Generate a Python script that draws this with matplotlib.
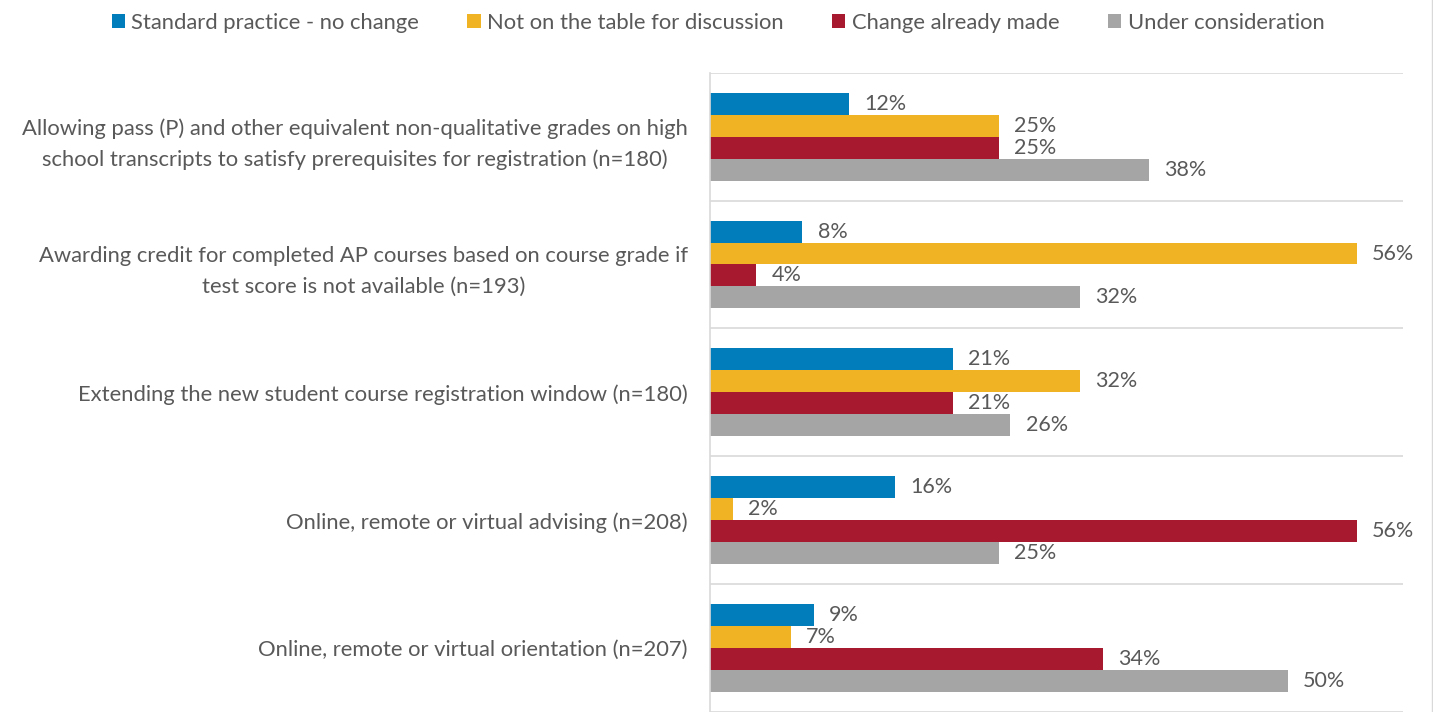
import matplotlib
matplotlib.use('Agg')
import matplotlib.pyplot as plt
from matplotlib.patches import Patch
from matplotlib.lines import Line2D
import numpy as np

# survey items, top to bottom
categories = [
    'Allowing pass (P) and other equivalent non-qualitative grades on high\n'
    'school transcripts to satisfy prerequisites for registration (n=180)',
    'Awarding credit for completed AP courses based on course grade if\n'
    'test score is not available (n=193)',
    'Extending the new student course registration window (n=180)',
    'Online, remote or virtual advising (n=208)',
    'Online, remote or virtual orientation (n=207)',
]
series_names = ['Standard practice - no change', 'Not on the table for discussion',
                'Change already made', 'Under consideration']
standard = [12, 8, 21, 16, 9]
not_on_table = [25, 56, 32, 2, 7]
already_made = [25, 4, 21, 56, 34]
considering = [38, 32, 26, 25, 50]

series = [standard, not_on_table, already_made, considering]
colors = ['#007DBA', '#F0B323', '#A6192E', '#A5A5A5']
text_color = '#595959'

plt.rcParams['font.family'] = ['Lato', 'DejaVu Sans']
plt.rcParams['font.size'] = 15.8

fig = plt.figure(figsize=(14.33, 7.12), dpi=100)
ax = fig.add_axes([710 / 1433, 0.0, 693 / 1433, 1 - 72.7 / 712])

y = np.arange(len(categories))
h = 22 / 128
for k, (vals, col) in enumerate(zip(series, colors)):
    bars = ax.barh(y + (k - 1.5) * h, vals, height=h, color=col, zorder=2)
    ax.bar_label(bars, labels=[f'{v}%' for v in vals], padding=11,
                 color=text_color, fontsize=15.5)

ax.set_xlim(0, 60)
ax.set_ylim(len(categories) - 0.5, -0.5)
ax.set_yticks(y)
ax.set_yticklabels(categories, multialignment='center', color=text_color, linespacing=1.65)
ax.tick_params(axis='y', length=0, pad=16)
ax.set_xticks([])

# band separators
ax.set_yticks(np.arange(-0.5, len(categories) + 0.5, 1), minor=True)
ax.tick_params(axis='y', which='minor', length=0)
ax.grid(axis='y', which='minor', color='#D9D9D9', linewidth=1.2, zorder=0)
for side in ['top', 'right', 'bottom']:
    ax.spines[side].set_visible(False)
ax.spines['left'].set_color('#D9D9D9')
ax.spines['left'].set_linewidth(1.2)

handles = [Patch(facecolor=c, label=n) for c, n in zip(colors, series_names)]
fig.legend(handles=handles, loc='upper center', bbox_to_anchor=(0.501, 1.01), ncol=4,
           frameon=False, handlelength=0.6, handleheight=0.6, handletextpad=0.3,
           columnspacing=2.2, labelcolor=text_color, fontsize=15.8)

# thin chart border on the right edge
fig.add_artist(Line2D([0.9993, 0.9993], [0, 1], transform=fig.transFigure,
                      color='#D9D9D9', linewidth=1))

fig.savefig('out.png', dpi=100)
